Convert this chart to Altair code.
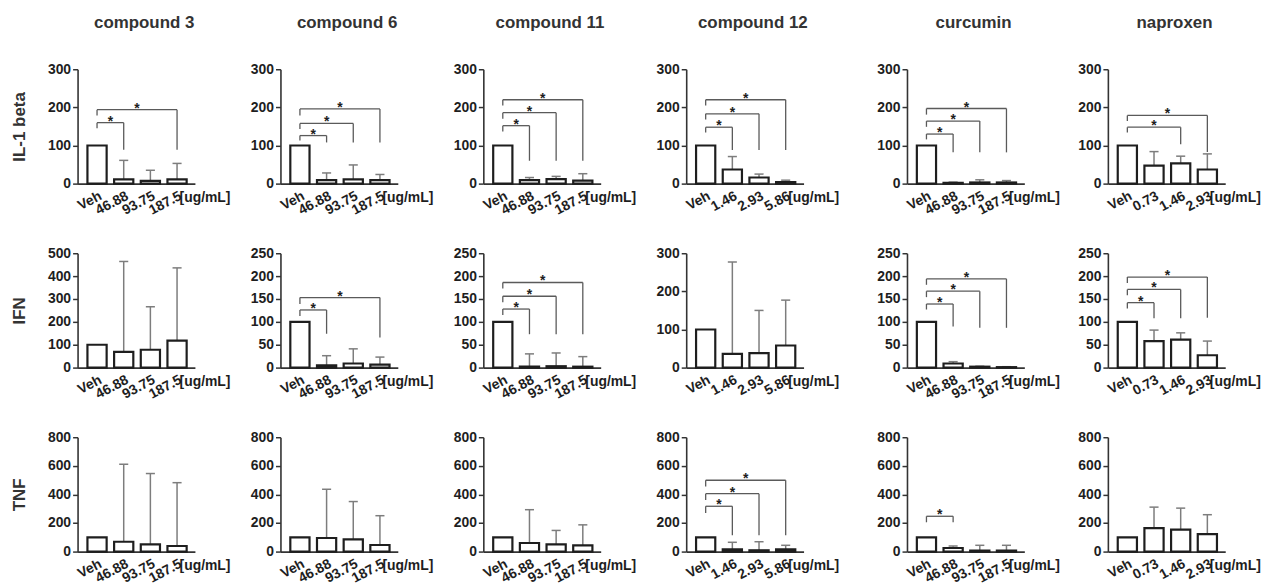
import altair as alt
import pandas as pd

FONT = "Liberation Sans"

compounds = ["compound 3", "compound 6", "compound 11", "compound 12", "curcumin", "naproxen"]
cytokines = ["IL-1 beta", "IFN", "TNF"]

doses_main = ["Veh", "46.88", "93.75", "187.5"]
doses_c12 = ["Veh", "1.46", "2.93", "5.86"]
doses_nap = ["Veh", "0.73", "1.46", "2.93"]
dose_sets = [doses_main, doses_main, doses_main, doses_c12, doses_main, doses_nap]
unit_label = "[ug/mL]"

ymax_il1 = [300, 300, 300, 300, 300, 300]
ymax_ifn = [500, 250, 250, 300, 250, 250]
ymax_tnf = [800, 800, 800, 800, 800, 800]
ystep_il1 = [100, 100, 100, 100, 100, 100]
ystep_ifn = [100, 50, 50, 100, 50, 50]
ystep_tnf = [200, 200, 200, 200, 200, 200]

# bar means (Veh, dose1, dose2, dose3) per compound
mean_il1 = [[100, 11, 7, 11], [100, 9, 11, 9], [100, 9, 12, 8],
            [100, 37, 16, 4], [100, 2, 3, 3], [100, 47, 53, 37]]
mean_ifn = [[100, 69, 78, 118], [100, 5, 9, 6.5], [100, 2, 3, 2],
            [100, 36, 38, 58], [100, 9, 2, 1], [100, 58, 61, 27]]
mean_tnf = [[100, 69, 51, 39], [100, 95, 85, 46], [100, 60, 51, 44],
            [100, 16, 9, 16], [100, 25, 7, 7], [100, 164, 154, 122]]

# top of error bars (mean + SD); Veh has none
sdtop_il1 = [[None, 61, 35, 53], [None, 28, 49, 24], [None, 16, 19, 26],
             [None, 71, 25, 9], [None, 4, 10, 8], [None, 84, 72, 78]]
sdtop_ifn = [[None, 464, 266, 436], [None, 26, 41, 23], [None, 30, 32, 24],
             [None, 277, 150, 177], [None, 13, 3, 2], [None, 82, 76, 58]]
sdtop_tnf = [[None, 611, 546, 482], [None, 436, 350, 251], [None, 293, 148, 187],
             [None, 65, 69, 44], [None, 39, 44, 44], [None, 311, 304, 258]]

# significance brackets: (target dose index, bracket level, left-leg bottom, right-leg bottom)
br_il1 = [
    [(1, 160, 145, 89), (3, 194, 179, 89)],
    [(1, 126, 113, 108), (2, 158, 143, 108), (3, 196, 179, 108)],
    [(1, 152, 137, 60), (2, 186, 170, 60), (3, 220, 205, 60)],
    [(1, 148, 134, 88), (2, 183, 168, 88), (3, 220, 205, 88)],
    [(1, 130, 116, 82), (2, 164, 149, 82), (3, 197, 181, 82)],
    [(2, 148, 134, 103), (3, 179, 164, 83)],
]
br_ifn = [
    [],
    [(1, 126, 113, 74), (3, 153, 139, 66)],
    [(1, 128, 115, 73), (2, 156, 143, 73), (3, 186, 173, 73)],
    [],
    [(1, 139, 127, 90), (2, 167, 154, 87), (3, 194, 181, 87)],
    [(1, 142, 129, 108), (2, 171, 158, 108), (3, 198, 185, 109)],
]
br_tnf = [
    [], [], [],
    [(1, 317, 270, 114), (2, 405, 361, 114), (3, 499, 455, 114)],
    [(1, 247, 205, 205)],
    [],
]

ymaxes = [ymax_il1, ymax_ifn, ymax_tnf]
ysteps = [ystep_il1, ystep_ifn, ystep_tnf]
all_means = [mean_il1, mean_ifn, mean_tnf]
all_tops = [sdtop_il1, sdtop_ifn, sdtop_tnf]
all_br = [br_il1, br_ifn, br_tnf]

W, H = 118, 115
BAR_HALF = 0.36
CAP_HALF = 0.17
ERR_COLOR = "#7d7d7d"
BR_COLOR = "#5a5a5a"
INK = "#1e1e1e"


def panel(ri, ci):
    ymax = ymaxes[ri][ci]
    ystep = ysteps[ri][ci]
    means = all_means[ri][ci]
    tops = all_tops[ri][ci]
    brs = all_br[ri][ci]
    labels = dose_sets[ci]

    xscale = alt.Scale(domain=[-0.73, 3.67], nice=False, zero=False)
    yscale = alt.Scale(domain=[0, ymax], nice=False)
    label_expr = "[" + ",".join("'" + l + "'" for l in labels) + "][datum.value]"
    xaxis = alt.Axis(values=[0, 1, 2, 3], labelExpr=label_expr, labelAngle=-28,
                     labelAlign="right", labelBaseline="top", labelPadding=5,
                     labelOverlap=False, labelFlush=False, labelBound=False,
                     ticks=False, title=unit_label, titleAngle=0, titleAlign="left",
                     titleBaseline="alphabetic", titleX=102, titleY=18,
                     titleFontSize=14, titleFontWeight="bold", titleColor=INK)
    yvals = list(range(0, ymax + 1, ystep))
    if ci == 0:
        yaxis = alt.Axis(values=yvals, title=cytokines[ri], titleFontSize=17,
                         titleFontWeight="bold", titleColor="#333333", titlePadding=19,
                         labelOverlap=False, labelFlush=False)
    else:
        yaxis = alt.Axis(values=yvals, title=None, labelOverlap=False, labelFlush=False)

    def X(f):
        return alt.X(f, type="quantitative", scale=xscale, axis=xaxis)

    def Y(f):
        return alt.Y(f, type="quantitative", scale=yscale, axis=yaxis)

    bar_df = pd.DataFrame({"pos": [0, 1, 2, 3], "mean": means, "base": [0, 0, 0, 0]})
    bar_df["lo"] = bar_df["pos"] - BAR_HALF
    bar_df["hi"] = bar_df["pos"] + BAR_HALF

    idx = [i for i in range(4) if tops[i] is not None]
    err_df = pd.DataFrame({"pos": idx, "mean": [means[i] for i in idx],
                           "top": [tops[i] for i in idx]})
    err_df["clo"] = err_df["pos"] - CAP_HALF
    err_df["chi"] = err_df["pos"] + CAP_HALF

    layers = []
    layers.append(alt.Chart(err_df).mark_rule(color=ERR_COLOR, strokeWidth=1.5).encode(
        x=X("pos"), y=Y("mean"), y2="top"))
    layers.append(alt.Chart(err_df).mark_rule(color=ERR_COLOR, strokeWidth=1.5).encode(
        x=X("clo"), x2="chi", y=Y("top")))
    layers.append(alt.Chart(bar_df).mark_bar(fill="white", stroke=INK, strokeWidth=2.2).encode(
        x=X("lo"), x2="hi", y=Y("mean"), y2="base"))

    if brs:
        br_df = pd.DataFrame({
            "x0": [0] * len(brs),
            "x1": [b[0] for b in brs],
            "xm": [b[0] / 2 for b in brs],
            "h": [b[1] for b in brs],
            "lb": [b[2] for b in brs],
            "rb": [b[3] for b in brs],
        })
        layers.append(alt.Chart(br_df).mark_rule(color=BR_COLOR, strokeWidth=1.3).encode(
            x=X("x0"), x2="x1", y=Y("h")))
        layers.append(alt.Chart(br_df).mark_rule(color=BR_COLOR, strokeWidth=1.3).encode(
            x=X("x0"), y=Y("lb"), y2="h"))
        layers.append(alt.Chart(br_df).mark_rule(color=BR_COLOR, strokeWidth=1.3).encode(
            x=X("x1"), y=Y("rb"), y2="h"))
        layers.append(alt.Chart(br_df).mark_text(text="*", fontSize=14, fontWeight="bold",
                                                 color=INK, baseline="alphabetic", dy=3).encode(
            x=X("xm"), y=Y("h")))

    ch = alt.layer(*layers).properties(width=W, height=H)
    if ri == 0:
        ch = ch.properties(title=alt.TitleParams(text=compounds[ci], fontSize=17, fontWeight="bold",
                                                 color="#333333", anchor="middle", dx=8,
                                                 frame="group", offset=30))
    return ch


group_a = alt.concat(*[panel(ri, ci) for ri in range(3) for ci in range(4)], columns=4,
                     spacing={"row": 70, "column": 86}, bounds="flush")
group_b = alt.concat(*[panel(ri, ci) for ri in range(3) for ci in range(4, 6)], columns=2,
                     spacing={"row": 70, "column": 84}, bounds="flush")

chart = alt.hconcat(group_a, group_b, spacing=37).properties(
    padding={"left": 10, "top": 13, "right": 5, "bottom": 5}
).configure(font=FONT, background="white").configure_view(stroke=None).configure_axis(
    grid=False, domainColor="#333333", domainWidth=1.6, tickColor="#333333", tickWidth=1.5,
    tickSize=5, labelFont=FONT, labelFontSize=14, labelFontWeight="bold", labelColor=INK,
    labelPadding=2, titleFont=FONT
)

chart.save("out.html", embed_options={"renderer": "svg", "actions": False})
